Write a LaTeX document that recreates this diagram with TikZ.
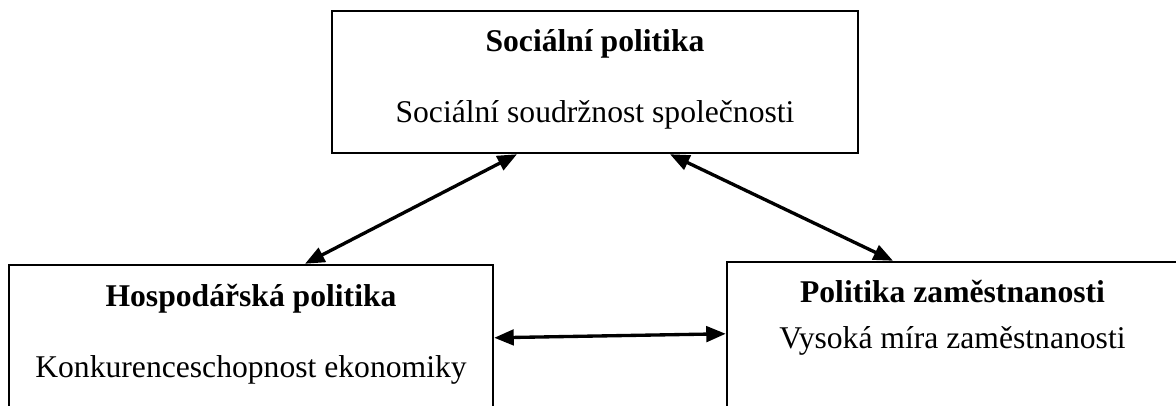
\documentclass[tikz,border=0pt]{standalone}
\usepackage{fontspec}
\setmainfont{Liberation Serif}
\usepackage{xcolor}
\usepackage{tikz}
\usetikzlibrary{arrows.meta,positioning,calc}

\begin{document}
\begin{tikzpicture}[
    box/.style={draw=black, line width=1.4pt, inner sep=0pt},
    ttl/.style={font=\fontsize{18}{21}\selectfont\bfseries, anchor=base, inner sep=0pt},
    lbl/.style={font=\fontsize{18}{21}\selectfont, anchor=base, inner sep=0pt},
    arr/.style={{Triangle[length=3.9mm,width=3.1mm]}-{Triangle[length=3.9mm,width=3.1mm]},
                line width=1.9pt}]

    \useasboundingbox (0,0) rectangle (23.52,-8.10);
    \clip (0,0) rectangle (23.52,-8.10);

    \node[box, minimum width=10.52cm, minimum height=2.84cm] (soc)  at (11.90,-1.64) {};
    \node[box, minimum width=9.68cm,  minimum height=3.50cm] (hosp) at (5.02,-7.05) {};
    \node[box, minimum width=9.02cm,  minimum height=3.56cm] (zam)  at (19.05,-7.02) {};

    \node[ttl] (socT)  at ([yshift=-0.84cm]soc.north)  {Sociální politika};
    \node[lbl] (socS)  at ([yshift=-2.26cm]soc.north)  {Sociální soudržnost společnosti};
    \node[ttl] (hospT) at ([yshift=-0.86cm]hosp.north) {Hospodářská politika};
    \node[lbl] (hospS) at ([yshift=-2.28cm]hosp.north) {Konkurenceschopnost ekonomiky};
    \node[ttl] (zamT)  at ([yshift=-0.84cm]zam.north)  {Politika zaměstnanosti};
    \node[lbl] (zamS)  at ([yshift=-1.76cm]zam.north)  {Vysoká míra zaměstnanosti};

    \draw[arr] ([xshift=-1.56cm]soc.south) -- ([xshift=1.08cm]hosp.north);
    \draw[arr] ([xshift=1.50cm]soc.south) -- ([xshift=-1.19cm]zam.north);
    \draw[arr] ([yshift=-1.48cm]hosp.north east) -- ([yshift=-1.46cm]zam.north west);
  \end{tikzpicture}
\end{document}
